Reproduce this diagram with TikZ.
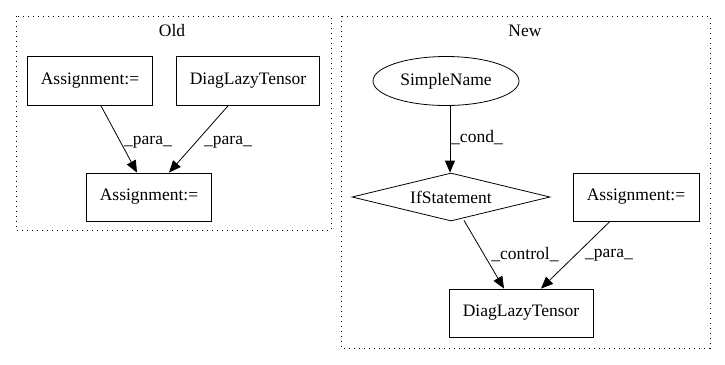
\documentclass[tikz,border=0pt]{standalone}
\usepackage{fontspec}
\setmainfont{Liberation Serif}
\usetikzlibrary{arrows.meta,shapes.geometric}
\begin{document}
\begin{tikzpicture}[x=1pt,y=-1pt,
  font=\fontsize{17.5pt}{20pt}\selectfont,
  cluster/.style={draw, line width=0.9pt, dash pattern=on 1.2pt off 3.8pt},
  box/.style={draw, line width=0.8pt, rectangle, inner sep=0pt},
  oval/.style={draw, line width=0.8pt, ellipse, inner sep=0pt, minimum width=146pt, minimum height=49pt},
  choice/.style={draw, line width=0.8pt, diamond, aspect=4.1, inner sep=0pt, minimum width=198pt, minimum height=48pt},
  flow/.style={-{Triangle[length=12pt,width=10pt]}, line width=0.8pt},
  lbl/.style={inner sep=0pt}]
\useasboundingbox (0,0) rectangle (725,364);

% clusters
\draw[cluster] (16,16) rectangle (331,230);
\node[lbl] (oldtitle) at (172,31) {Old};
\draw[cluster] (341,16) rectangle (710,348);
\node[lbl] (newtitle) at (525,31) {New};

% Old graph
\node[box, minimum width=125pt, minimum height=49pt] (oa1) at (90,81) {Assignment:=};
\node[box, minimum width=143pt, minimum height=49pt] (odiag) at (248,81) {DiagLazyTensor};
\node[box, minimum width=125pt, minimum height=48pt] (oa2) at (149,197) {Assignment:=};

\draw[flow] ([xshift=11pt]oa1.south) -- ([xshift=-12pt]oa2.north);
\draw[flow] ([xshift=-20pt]odiag.south) -- ([xshift=20pt]oa2.north);
\node[lbl] (l1) at (148,142) {\_para\_};
\node[lbl] (l2) at (228,142) {\_para\_};

% New graph
\node[oval] (sn) at (446,81) {SimpleName};
\node[choice] (ifs) at (451,197) {IfStatement};
\node[box, minimum width=126pt, minimum height=48pt] (na) at (636,197) {Assignment:=};
\node[box, minimum width=144pt, minimum height=48pt] (ndiag) at (521,313) {DiagLazyTensor};

\draw[flow] ([xshift=4pt]sn.south) -- ([xshift=-1pt]ifs.north);
\draw[flow] ([xshift=13pt,yshift=1pt]ifs.south) -- ([xshift=-17pt]ndiag.north);
\draw[flow] ([xshift=-26pt]na.south) -- ([xshift=20pt]ndiag.north);
\node[lbl] (l3) at (477,138) {\_cond\_};
\node[lbl] (l4) at (525,255) {\_control\_};
\node[lbl] (l5) at (609,255) {\_para\_};
\end{tikzpicture}
\end{document}
